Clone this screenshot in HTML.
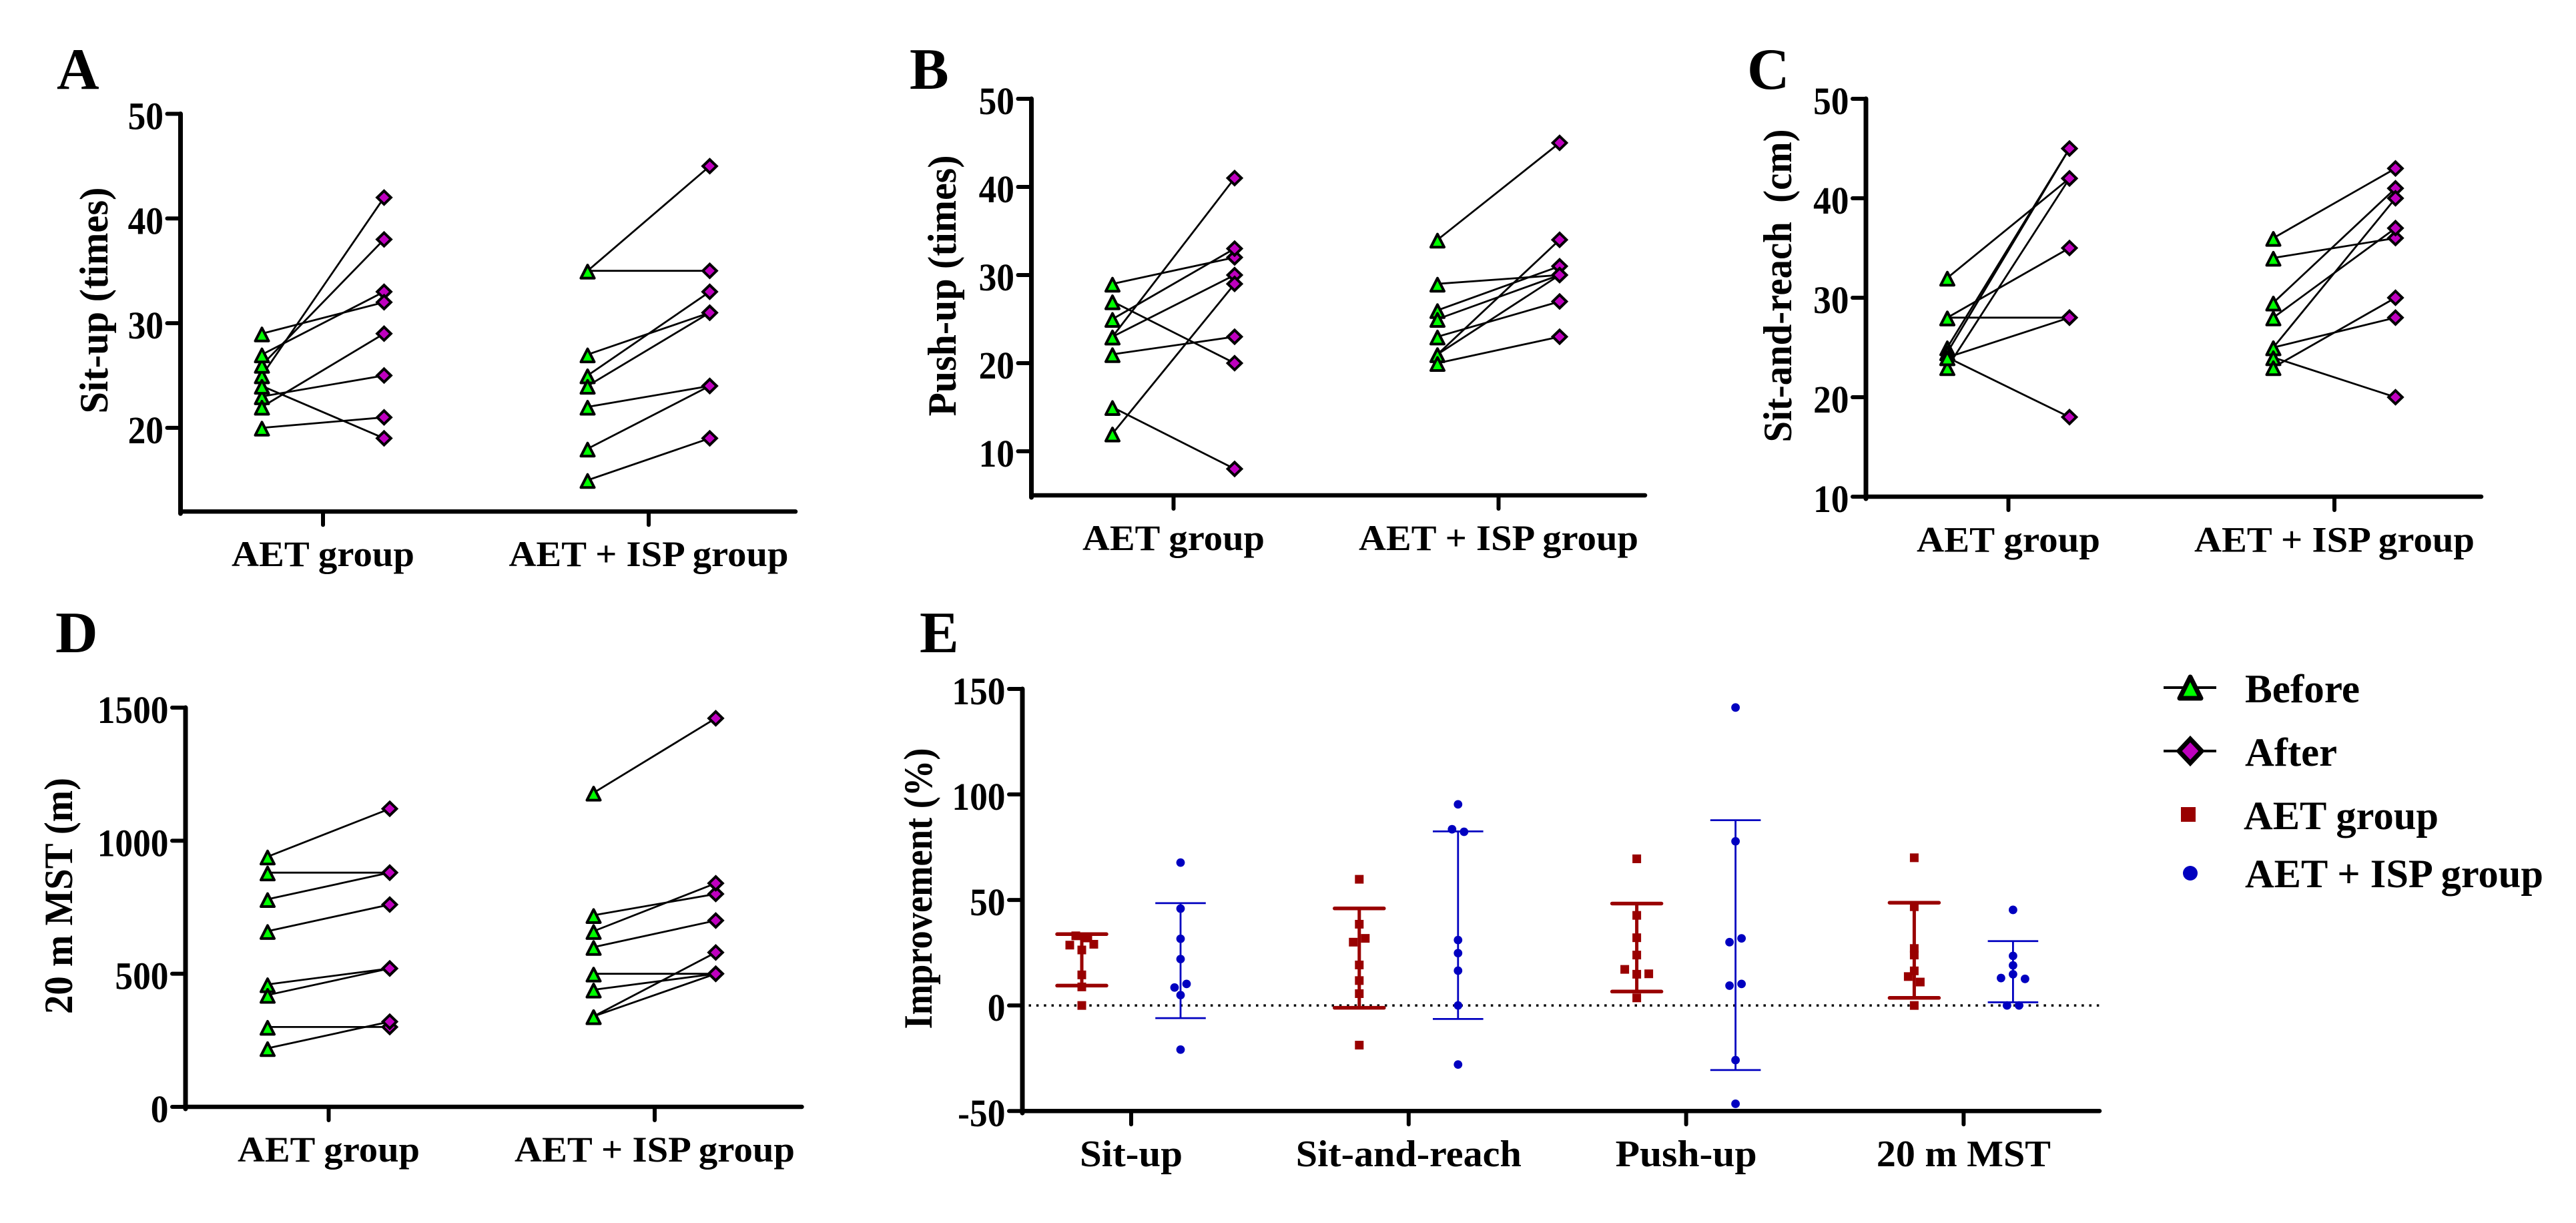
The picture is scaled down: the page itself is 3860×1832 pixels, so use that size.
<!DOCTYPE html>
<html lang="en">
<head>
<meta charset="utf-8">
<title>Fitness test results before and after training</title>
<style>
html,body{margin:0;padding:0;background:#fff;}
svg{display:block;}
text{font-family:"Liberation Serif",serif;font-weight:bold;fill:#000;}
</style>
</head>
<body>
<svg id="figure" xmlns="http://www.w3.org/2000/svg" width="3860" height="1832" viewBox="0 0 3860 1832">
  <rect x="0" y="0" width="3860" height="1832" fill="#fff"/>

  <text x="85" y="133" font-size="88">A</text>
  <text x="1363" y="133" font-size="88">B</text>
  <text x="2618" y="133" font-size="88">C</text>
  <text x="83" y="977" font-size="88">D</text>
  <text x="1378" y="977" font-size="88">E</text>

  <text transform="translate(161,450) rotate(-90)" text-anchor="middle" font-size="60" textLength="339" lengthAdjust="spacingAndGlyphs">Sit-up (times)</text>
  <text transform="translate(1432,428) rotate(-90)" text-anchor="middle" font-size="60" textLength="391" lengthAdjust="spacingAndGlyphs">Push-up (times)</text>
  <text transform="translate(2684,428) rotate(-90)" text-anchor="middle" font-size="60" textLength="469" lengthAdjust="spacingAndGlyphs" xml:space="preserve">Sit-and-reach  (cm)</text>
  <text transform="translate(108,1342) rotate(-90)" text-anchor="middle" font-size="60" textLength="354" lengthAdjust="spacingAndGlyphs">20 m MST (m)</text>
  <text transform="translate(1396,1331) rotate(-90)" text-anchor="middle" font-size="60" textLength="421" lengthAdjust="spacingAndGlyphs">Improvement (%)</text>

  <g>
    <g>
      <line x1="3242" y1="1030" x2="3321" y2="1030" stroke="#000" stroke-width="4"/>
      <polygon points="3282,1014 3298,1046 3266,1046" fill="#00ff00" stroke="#000" stroke-width="7" stroke-linejoin="round"/>
      <text x="3364" y="1052" font-size="60" textLength="172" lengthAdjust="spacingAndGlyphs">Before</text>
    </g>
    <g>
      <line x1="3242" y1="1125" x2="3321" y2="1125" stroke="#000" stroke-width="4"/>
      <polygon points="3282,1107 3299,1125 3282,1143 3265,1125" fill="#bf00bf" stroke="#000" stroke-width="7"/>
      <text x="3364" y="1147" font-size="60" textLength="138" lengthAdjust="spacingAndGlyphs">After</text>
    </g>
    <g>
      <rect x="3268" y="1209" width="22" height="22" fill="#990000"/>
      <text x="3362" y="1242" font-size="60" textLength="292" lengthAdjust="spacingAndGlyphs">AET group</text>
    </g>
    <g>
      <circle cx="3282" cy="1308" r="11" fill="#0000bf"/>
      <text x="3364" y="1329" font-size="60" textLength="447" lengthAdjust="spacingAndGlyphs">AET + ISP group</text>
    </g>
  </g>
  <g id="charts"></g>
</svg>

<script>
// ---- Shared categories ----
const groupLabels = ["AET group", "AET + ISP group"];
const improvementCategories = ["Sit-up", "Sit-and-reach", "Push-up", "20 m MST"];

// ---- Panel A: Sit-up ----
const sitUpTicks = [20, 30, 40, 50];
const sitUpAetBefore = [25, 26, 27, 29, 23, 22, 24, 20];
const sitUpAetAfter = [42, 38, 33, 32, 25, 29, 19, 21];
const sitUpIspBefore = [35, 35, 25, 27, 24, 22, 18, 15];
const sitUpIspAfter = [45, 35, 33, 31, 31, 24, 24, 19];

// ---- Panel B: Push-up ----
const pushUpTicks = [10, 20, 30, 40, 50];
const pushUpAetBefore = [29, 25, 23, 23, 27, 21, 15, 12];
const pushUpAetAfter = [32, 33, 41, 30, 20, 23, 8, 29];
const pushUpIspBefore = [34, 29, 26, 25, 23, 21, 21, 20];
const pushUpIspAfter = [45, 30, 31, 30, 27, 34, 30, 23];

// ---- Panel C: Sit-and-reach ----
const reachTicks = [10, 20, 30, 40, 50];
const reachAetBefore = [32, 28, 28, 25, 24.5, 23, 24, 24];
const reachAetAfter = [42, 35, 28, 45, 45, 42, 28, 18];
const reachIspBefore = [36, 34, 29.5, 28, 25, 25, 24, 23];
const reachIspAfter = [43, 36, 41, 37, 40, 28, 20, 30];

// ---- Panel D: 20 m MST ----
const mstTicks = [0, 500, 1000, 1500];
const mstAetBefore = [940, 880, 780, 660, 460, 420, 300, 220];
const mstAetAfter = [1120, 880, 880, 760, 520, 520, 300, 320];
const mstIspBefore = [1180, 720, 660, 600, 500, 440, 340, 340];
const mstIspAfter = [1460, 800, 840, 700, 500, 500, 580, 500];

// ---- Panel E: Improvement ----
const improvementTicks = [-50, 0, 50, 100, 150];
const aetImprovement = [
  [33, 32, 28.6, 29, 26.3, 14.5, 8.8, 0],
  [59.8, 38.5, 31.8, 30, 19.2, 11.8, 5.6, -18.8],
  [69.5, 42.7, 32.1, 23.9, 17.1, 15, 14.8, 3.6],
  [70, 46.8, 27, 23.9, 16.4, 13.7, 11.1, 0]
];
const aetSwarmSlots = [
  [-1, 1, -2, 2, 0, 0, 0, 0],
  [0, 0, 1, -1, 0, 0, 0, 0],
  [0, 0, 0, 0, -2, 2, 0, 0],
  [0, 0, 0, 0, 0, -1, 1, 0]
];
const aetErrorTop = [33.8, 46, 48.3, 48.7];
const aetErrorBottom = [9.4, -1.1, 6.6, 3.6];
const ispImprovement = [
  [67.7, 45.9, 31.6, 22, 8.5, 10.2, 4.9, -20.9],
  [95.3, 83.5, 82.3, 31, 24.8, 16.5, 0, -28],
  [141.2, 77.8, 30, 31.8, 9.4, 10.2, -25.9, -46.6],
  [45.3, 23.5, 19, 14.8, 13, 12.6, 0, 0]
];
const ispSwarmSlots = [
  [0, 0, 0, 0, -1, 1, 0, 0],
  [0, -1, 1, 0, 0, 0, 0, 0],
  [0, 0, -1, 1, -1, 1, 0, 0],
  [0, 0, 0, 0, -2, 2, -1, 1]
];
const ispErrorTop = [48.5, 82.5, 87.8, 30.5];
const ispErrorBottom = [-6, -6.4, -30.6, 1.5];

const SVG_NS = "http://www.w3.org/2000/svg";
const root = document.getElementById("charts");

function svgEl(tag, attrs, parent) {
  const el = document.createElementNS(SVG_NS, tag);
  for (const key in attrs) el.setAttribute(key, attrs[key]);
  parent.appendChild(el);
  return el;
}

function linearScale(d0, d1, r0, r1) {
  return function (v) { return r0 + (v - d0) * (r1 - r0) / (d1 - d0); };
}

function drawAxes(parent, o, y, ticks, categoryX, categories) {
  const axisGroup = svgEl("g", {}, parent);
  
  

  const yAxis = svgEl("line", {x1: o.axisX, x2: o.axisX, y1: o.top, y2: o.bottom + 3, stroke: "#000", "stroke-width": 7, "stroke-linecap": "round"}, axisGroup);
  
  

  const xAxis = svgEl("line", {x1: o.axisX, x2: o.axisEnd, y1: o.bottom, y2: o.bottom, stroke: "#000", "stroke-width": 6.5, "stroke-linecap": "round"}, axisGroup);
  
  

  ticks.forEach(function (t) {
    const tickLine = svgEl("line", {x1: o.axisX - 20, x2: o.axisX, y1: y(t), y2: y(t), stroke: "#000", "stroke-width": 6, "stroke-linecap": "round"}, axisGroup);
    
    

    const text = String(t);
    const labelWidth = text.replace("-", "").length * 26.7 + (t < 0 ? 18 : 0);
    const tickLabel = svgEl("text", {x: o.axisX - 25.5, y: y(t) + 23, "text-anchor": "end", "font-size": 58, textLength: labelWidth, lengthAdjust: "spacingAndGlyphs"}, axisGroup);
    tickLabel.textContent = text;
    
    
  });

  categories.forEach(function (label, i) {
    const cx = categoryX(i);
    const tickLine = svgEl("line", {x1: cx, x2: cx, y1: o.bottom, y2: o.bottom + 20, stroke: "#000", "stroke-width": 6, "stroke-linecap": "round"}, axisGroup);
    
    

    const catLabel = svgEl("text", {x: cx, y: o.labelY, "text-anchor": "middle", "font-size": o.labelFont, textLength: o.labelWidths[i], lengthAdjust: "spacingAndGlyphs"}, axisGroup);
    catLabel.textContent = label;
    
    
  });
}

function drawPairedPanel(o, ticks, aetBefore, aetAfter, ispBefore, ispAfter) {
  const panel = svgEl("g", {}, root);
  
  

  const y = linearScale(o.yMin, o.yMax, o.bottom, o.top);
  const categoryX = function (i) { return o.categoryStart + i * o.categoryStep; };
  drawAxes(panel, o, y, ticks, categoryX, groupLabels);

  const groups = [[aetBefore, aetAfter], [ispBefore, ispAfter]];
  const triangles = [];
  const diamonds = [];
  groups.forEach(function (pair, g) {
    const xBefore = categoryX(g) - 91.5;
    const xAfter = categoryX(g) + 91.5;
    pair[0].forEach(function (v, i) {
      const connector = svgEl("line", {x1: xBefore, y1: y(v), x2: xAfter, y2: y(pair[1][i]), stroke: "#000", "stroke-width": 2.8}, panel);
      
      
      triangles.push([xBefore, y(v)]);
      diamonds.push([xAfter, y(pair[1][i])]);
    });
  });
  diamonds.forEach(function (p) {
    const d = svgEl("polygon", {points: p[0] + "," + (p[1] - 10) + " " + (p[0] + 10.3) + "," + p[1] + " " + p[0] + "," + (p[1] + 10) + " " + (p[0] - 10.3) + "," + p[1], fill: "#bf00bf", stroke: "#000", "stroke-width": 4}, panel);
    
    
  });
  triangles.forEach(function (p) {
    const t = svgEl("polygon", {points: p[0] + "," + (p[1] - 8.5) + " " + (p[0] + 10) + "," + (p[1] + 11) + " " + (p[0] - 10) + "," + (p[1] + 11), fill: "#00ff00", stroke: "#000", "stroke-width": 4, "stroke-linejoin": "round"}, panel);
    
    
  });
}

function drawImprovementPanel(o) {
  const panel = svgEl("g", {}, root);
  
  

  const y = linearScale(o.yMin, o.yMax, o.bottom, o.top);
  const categoryX = function (i) { return o.categoryStart + i * o.categoryStep; };

  const zero = svgEl("line", {x1: o.axisX + 9.5, x2: o.axisEnd, y1: y(0), y2: y(0), stroke: "#000", "stroke-width": 3.5, "stroke-dasharray": "3.5 7.85"}, panel);
  
  

  drawAxes(panel, o, y, improvementTicks, categoryX, improvementCategories);

  improvementCategories.forEach(function (name, c) {
    const redX = categoryX(c) - 74;
    const blueX = categoryX(c) + 74;

    const redStem = svgEl("line", {x1: redX, x2: redX, y1: y(aetErrorTop[c]), y2: y(aetErrorBottom[c]), stroke: "#990000", "stroke-width": 5}, panel);
    
    
    [aetErrorTop[c], aetErrorBottom[c]].forEach(function (v) {
      const cap = svgEl("line", {x1: redX - 37, x2: redX + 37, y1: y(v), y2: y(v), stroke: "#990000", "stroke-width": 5.5, "stroke-linecap": "round"}, panel);
      
      
    });

    const blueStem = svgEl("line", {x1: blueX, x2: blueX, y1: y(ispErrorTop[c]), y2: y(ispErrorBottom[c]), stroke: "#0000c0", "stroke-width": 2.8}, panel);
    
    
    [ispErrorTop[c], ispErrorBottom[c]].forEach(function (v) {
      const cap = svgEl("line", {x1: blueX - 37.8, x2: blueX + 37.8, y1: y(v), y2: y(v), stroke: "#0000c0", "stroke-width": 2.8}, panel);
      
      
    });

    aetImprovement[c].forEach(function (v, i) {
      const sq = svgEl("rect", {x: redX + aetSwarmSlots[c][i] * 9 - 6.5, y: y(v) - 6.5, width: 13, height: 13, fill: "#990000"}, panel);
      
      
    });
    ispImprovement[c].forEach(function (v, i) {
      const dot = svgEl("circle", {cx: blueX + ispSwarmSlots[c][i] * 9, cy: y(v), r: 6.4, fill: "#0000c0"}, panel);
      
      
    });
  });
}

drawPairedPanel({name: "panel-a-sit-up", axisX: 270.5, axisEnd: 1192, top: 170.5, bottom: 766.3, yMin: 12, yMax: 50, categoryStart: 484, categoryStep: 488, labelY: 848, labelFont: 54, labelWidths: [274, 419]},
  sitUpTicks, sitUpAetBefore, sitUpAetAfter, sitUpIspBefore, sitUpIspAfter);

drawPairedPanel({name: "panel-b-push-up", axisX: 1545.5, axisEnd: 2465, top: 148, bottom: 742, yMin: 5, yMax: 50, categoryStart: 1758.5, categoryStep: 487, labelY: 824, labelFont: 54, labelWidths: [273, 419]},
  pushUpTicks, pushUpAetBefore, pushUpAetAfter, pushUpIspBefore, pushUpIspAfter);

drawPairedPanel({name: "panel-c-sit-and-reach", axisX: 2796, axisEnd: 3718, top: 148, bottom: 744, yMin: 10, yMax: 50, categoryStart: 3009.5, categoryStep: 488.5, labelY: 826.5, labelFont: 54, labelWidths: [275, 420]},
  reachTicks, reachAetBefore, reachAetAfter, reachIspBefore, reachIspAfter);

drawPairedPanel({name: "panel-d-mst", axisX: 278, axisEnd: 1201.5, top: 1060, bottom: 1658, yMin: 0, yMax: 1500, categoryStart: 492.5, categoryStep: 488.5, labelY: 1740, labelFont: 54, labelWidths: [273, 420]},
  mstTicks, mstAetBefore, mstAetAfter, mstIspBefore, mstIspAfter);

drawImprovementPanel({name: "panel-e-improvement", axisX: 1532, axisEnd: 3146, top: 1032, bottom: 1664.2, yMin: -50, yMax: 150, categoryStart: 1695, categoryStep: 415.8, labelY: 1747, labelFont: 56, labelWidths: [154, 338, 212, 261]});
</script>
</body>
</html>
